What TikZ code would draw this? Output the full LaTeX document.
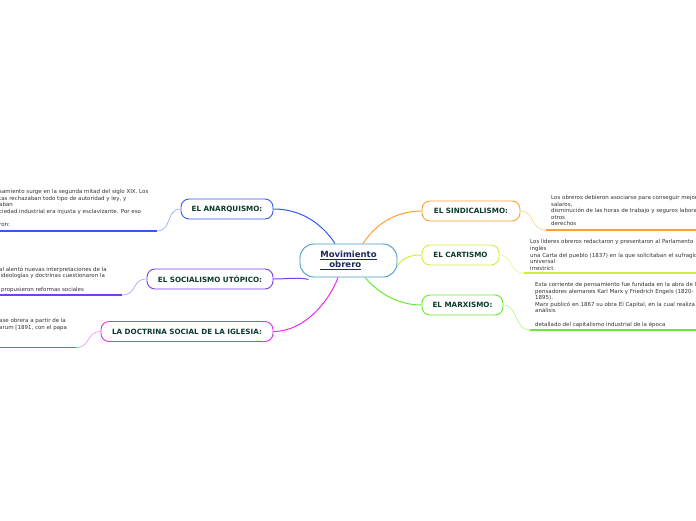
\documentclass[tikz,border=0pt]{standalone}
\usepackage{fontspec}
\setmainfont{DejaVu Sans}
\definecolor{cblue}{RGB}{51,90,238}
\definecolor{cpurple}{RGB}{122,60,240}
\definecolor{cmag}{RGB}{238,40,238}
\definecolor{corange}{RGB}{255,160,48}
\definecolor{cyel}{RGB}{210,238,60}
\definecolor{cgreen}{RGB}{102,236,51}
\definecolor{ccen}{RGB}{68,153,204}
\definecolor{lbltext}{RGB}{12,58,44}
\definecolor{centext}{RGB}{27,42,92}
\definecolor{leaftext}{RGB}{50,50,50}
\tikzset{
  topic/.style={draw=#1, line width=0.9pt, fill=white, rounded corners=8pt,
    minimum height=20pt, inner sep=0pt, text=lbltext,
    font=\fontsize{7.2}{8}\selectfont\bfseries},
  leaf/.style={inner sep=0pt, anchor=north west, align=left, text=leaftext,
    font=\fontsize{5.5}{6.6}\selectfont},
  link/.style={draw=#1, line width=1pt},
  leaflink/.style={draw=#1!55, line width=0.6pt},
  uline/.style={draw=#1, line width=1.6pt}
}
\begin{document}
\begin{tikzpicture}[x=1pt,y=-1pt]
\useasboundingbox (0,0) rectangle (696,520);
\clip (0,0) rectangle (696,520);

% central
\node[draw=ccen, line width=0.9pt, fill=white, rounded corners=14pt,
  minimum width=97pt, minimum height=33pt, inner sep=0pt, align=left,
  text=centext, font=\fontsize{8.5}{10}\selectfont\bfseries]
  (c) at (348.5,260.5) {\underline{Movimiento}\\\underline{\hspace*{9pt}obrero}};

% topic boxes
\node[topic=cblue, minimum width=92pt] (an) at (227,209) {EL ANARQUISMO:};
\node[topic=cpurple, minimum width=126pt] (so) at (210,279) {EL SOCIALISMO UTÓPICO:};
\node[topic=cmag, minimum width=172pt] (ig) at (187,331.5) {LA DOCTRINA SOCIAL DE LA IGLESIA:};
\node[topic=corange, minimum width=98pt] (si) at (471,211) {EL SINDICALISMO:};
\node[topic=cyel, minimum width=77pt] (ca) at (460.5,255) {EL CARTISMO};
\node[topic=cgreen, minimum width=81pt] (ma) at (462.5,305) {EL MARXISMO:};

% central connectors
\draw[link=cblue] (an.east) .. controls (305,209) and (325,228) .. ([xshift=-13.5pt]c.north);
\draw[link=cpurple] (so.east) .. controls (288,279) and (298,277) .. ([xshift=-40pt,yshift=-2pt]c.south);
\draw[link=cmag] (ig.east) .. controls (305,331.5) and (330,300) .. ([xshift=-10.5pt]c.south);
\draw[link=corange] ([xshift=14.5pt]c.north) .. controls (375,225) and (395,211) .. (si.west);
\draw[link=cyel] ([yshift=-5pt]c.east) .. controls (405,255.5) and (414,255) .. (ca.west);
\draw[link=cgreen] ([xshift=16.5pt]c.south) .. controls (380,295) and (400,305) .. (ma.west);

% leaf texts (left side, cut at the picture edge)
\node[leaf] (ant) at (-1,189.3) {samiento surge en la segunda mitad del siglo XIX. Los\\
tas rechazaban todo tipo de autoridad y ley, y\\
aban\\
ciedad industrial era injusta y esclavizante. Por eso\\
\mbox{}\\
ron:};
\node[leaf] (sot) at (-1,266.7) {al alentó nuevas interpretaciones de la\\
\hspace*{1.5pt}ideologías y doctrinas cuestionaron la\\
\mbox{}\\
\hspace*{2pt}propusieron reformas sociales};
\node[leaf] (igt) at (-1,318.2) {ase obrera a partir de la\\
arum [1891, con el papa};

% leaf texts (right side)
\node[leaf] (sit) at (551,195.2) {Los obreros debieron asociarse para conseguir mejores\\
salaros,\\
disminución de las horas de trabajo y seguros laborales y\\
otros\\
derechos};
\node[leaf] (cat) at (530,239.2) {Los líderes obreros redactaron y presentaron al Parlamento\\
inglés\\
una Carta del pueblo (1837) en la que solicitaban el sufragio\\
universal\\
irrestrict};
\node[leaf] (mat) at (535,282.2) {Esta corriente de pensamiento fue fundada en la abra de los\\
pensadores alemanes Karl Marx y Friedrich Engels (1820-\\
1895).\\
Marx publicó en 1867 su obra El Capital, en la cual realiza un\\
análisis\\
\mbox{}\\
detallado del capitalismo industrial de la época};

% underlines
\coordinate (anu) at (157,231); \coordinate (anu0) at (-5,231);
\coordinate (sou) at (122,295); \coordinate (sou0) at (-5,295);
\coordinate (igu) at (76,347.5); \coordinate (igu0) at (-5,347.5);
\coordinate (siu) at (546,230); \coordinate (siu1) at (700,230);
\coordinate (cau) at (524,273); \coordinate (cau1) at (700,273);
\coordinate (mau) at (530,330); \coordinate (mau1) at (700,330);
\draw[uline=cblue] (anu0) -- (anu);
\draw[uline=cpurple] (sou0) -- (sou);
\draw[uline=cmag] (igu0) -- (igu);
\draw[uline=corange] (siu) -- (siu1);
\draw[uline=cyel] (cau) -- (cau1);
\draw[uline=cgreen] (mau) -- (mau1);

% leaf connectors
\draw[leaflink=cblue] (anu) .. controls (172,231) and (166,209) .. (an.west);
\draw[leaflink=cpurple] (sou) .. controls (137,295) and (132,279) .. (so.west);
\draw[leaflink=cmag] (igu) .. controls (91,347.5) and (86,331.5) .. (ig.west);
\draw[leaflink=corange] (si.east) .. controls (535,211) and (530,230) .. (siu);
\draw[leaflink=cyel] (ca.east) .. controls (514,255) and (508,273) .. (cau);
\draw[leaflink=cgreen] (ma.east) .. controls (518,305) and (514,330) .. (mau);
\end{tikzpicture}
\end{document}
